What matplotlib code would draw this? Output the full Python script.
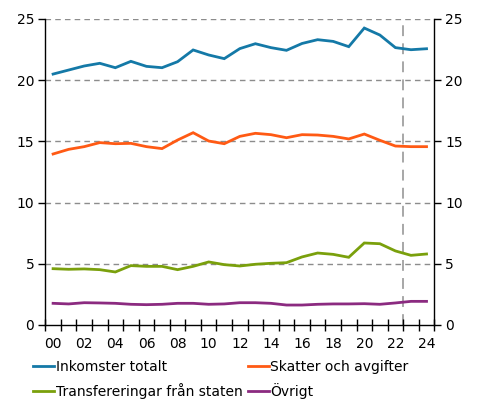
import numpy as np
import matplotlib
matplotlib.use("Agg")
import matplotlib.pyplot as plt

plt.rcParams['font.family'] = ['DejaVu Sans']

years = list(range(2000, 2025))
tick_labels = ["00", "02", "04", "06", "08", "10", "12", "14", "16", "18", "20", "22", "24"]

inkomster = [20.5, 20.83, 21.16, 21.38, 21.02, 21.54, 21.13, 21.02, 21.51, 22.47,
             22.06, 21.76, 22.58, 22.98, 22.66, 22.44, 23.0, 23.31, 23.17, 22.74,
             24.26, 23.69, 22.66, 22.49, 22.57]
skatter = [13.97, 14.35, 14.57, 14.9, 14.81, 14.84, 14.57, 14.41, 15.11, 15.71,
           15.03, 14.81, 15.41, 15.66, 15.55, 15.3, 15.55, 15.52, 15.41, 15.2,
           15.6, 15.09, 14.62, 14.57, 14.57]
transfereringar = [4.6, 4.55, 4.58, 4.52, 4.33, 4.85, 4.79, 4.79, 4.52, 4.79,
                   5.15, 4.93, 4.82, 4.96, 5.04, 5.09, 5.56, 5.88, 5.77, 5.53,
                   6.7, 6.64, 6.05, 5.69, 5.8]
ovrigt = [1.77, 1.72, 1.82, 1.8, 1.77, 1.69, 1.66, 1.69, 1.77, 1.77,
          1.69, 1.72, 1.82, 1.82, 1.77, 1.63, 1.63, 1.69, 1.72, 1.72,
          1.74, 1.69, 1.8, 1.93, 1.93]

series = [
    ("Inkomster totalt", inkomster, "#1479a7"),
    ("Skatter och avgifter", skatter, "#ff5a14"),
    ("Transfereringar från staten", transfereringar, "#7aa00c"),
    ("Övrigt", ovrigt, "#8b2a80"),
]

fig = plt.figure(figsize=(4.78, 3.99), dpi=100)
ax = fig.add_axes([0.0948, 0.1855, 0.8138, 0.7669])

x = np.arange(len(years))
lines = {}
for label, vals, col in series:
    lines[label], = ax.plot(x, vals, color=col, lw=2.0, label=label, solid_joinstyle="miter")

ax.set_xlim(-0.5, len(years) - 0.5)
ax.set_ylim(0, 25)

# horizontal gridlines
for yv in [5, 10, 15, 20, 25]:
    ax.axhline(yv, color="#8c8c8c", lw=1.0, ls=(0, (4, 3)), zorder=0)

# forecast boundary
ax.axvline(22.5, color="#a0a0a0", lw=1.3, ls=(0, (6, 4)), zorder=0)

# category axis: labels at every second year, ticks at band edges
ax.set_xticks(x[::2])
ax.set_xticklabels(tick_labels)
ax.set_xticks(np.arange(-0.5, len(years), 1), minor=True)
ax.tick_params(axis="x", which="major", length=0, pad=9, labelsize=10)
ax.tick_params(axis="x", which="minor", direction="inout", length=8, width=1, color="black")

ax.set_yticks([0, 5, 10, 15, 20, 25])
ax.tick_params(axis="y", which="major", direction="out", length=5, width=1,
               labelsize=10, left=True, right=True, labelleft=True, labelright=True, pad=3)

for side in ["left", "right", "bottom"]:
    ax.spines[side].set_color("black")
    ax.spines[side].set_linewidth(1.0)
ax.spines["top"].set_visible(False)

# legend laid out row by row: two entries per row
order = ["Inkomster totalt", "Transfereringar från staten", "Skatter och avgifter", "Övrigt"]
fig.legend([lines[k] for k in order], order, loc="lower left",
           bbox_to_anchor=(0.058, -0.013), ncol=2, frameon=False,
           fontsize=10, handlelength=1.5, handletextpad=0.1, columnspacing=0.4,
           labelspacing=0.6, borderaxespad=0.0)

fig.savefig("out.png", dpi=100)
